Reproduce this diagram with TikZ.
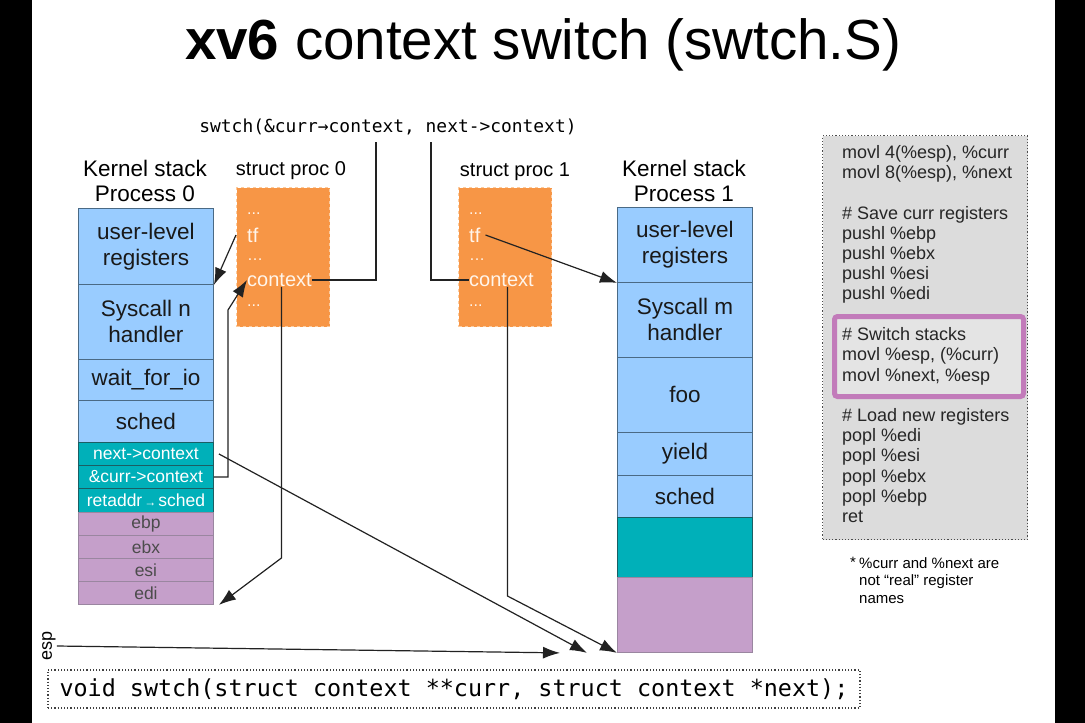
\documentclass[tikz,border=0pt]{standalone}
\usepackage{fontspec}
\setmainfont{Liberation Sans}
\newfontfamily\codefont{DejaVu Sans Mono}
\usetikzlibrary{arrows.meta,positioning}

\definecolor{stackblue}{HTML}{99CCFF}
\definecolor{stackblueline}{HTML}{4A6A85}
\definecolor{stackteal}{HTML}{00B0B9}
\definecolor{stacktealline}{HTML}{1B5E63}
\definecolor{stackpurple}{HTML}{C59FCA}
\definecolor{stackpurpleline}{HTML}{9A86A0}
\definecolor{procorange}{HTML}{F79646}
\definecolor{procorangeline}{HTML}{FCCB9E}
\definecolor{asmgray}{HTML}{DCDCDC}
\definecolor{asminner}{HTML}{E4E4E4}
\definecolor{asmframe}{HTML}{C27BBA}
\definecolor{inkline}{HTML}{222222}

\tikzset{
  cellbase/.style={rectangle, anchor=north west, minimum width=135, inner sep=0pt,
                   align=center, line width=0.9pt},
  bcell/.style={cellbase, fill=stackblue, draw=stackblueline, text=black!90,
                font=\fontsize{22.5}{26}\selectfont},
  tcell/.style={cellbase, fill=stackteal, draw=stacktealline, text=white,
                minimum height=23, font=\fontsize{17.5}{20}\selectfont},
  pcell/.style={cellbase, fill=stackpurple, draw=stackpurpleline, text=black!70,
                minimum height=23, font=\fontsize{17.5}{20}\selectfont},
  procbox/.style={rectangle, anchor=north west, fill=procorange, draw=procorangeline,
                  dashed, line width=1pt, minimum width=93, minimum height=139},
  field/.style={anchor=west, inner sep=0pt, text=white!92!orange,
                font=\fontsize{20}{24}\selectfont},
  gap/.style={field, font=\fontsize{16}{18}\selectfont},
  caption/.style={align=center, font=\fontsize{22.5}{25}\selectfont},
  link/.style={draw=inkline, line width=1.2pt},
  pointer/.style={link, -{Latex[length=17pt,width=12pt]}},
}

\begin{document}
\begin{tikzpicture}[x=1pt,y=-1pt]
\useasboundingbox (0,0) rectangle (1085,723);
\fill[white] (0,0) rectangle (1085,723);
% letterbox bars
\fill[black] (0,0) rectangle (32,723);
\fill[black] (1055,0) rectangle (1085,723);

% title
\node (title) at (543,45) {\fontsize{56.5}{62}\selectfont\textbf{xv6} context switch (swtch.S)};

% call site
\node (call) at (388,127) {\codefont\fontsize{17.9}{20}\selectfont swtch(\&curr→context, next->context)};
\coordinate (callcurr) at (376,142);
\coordinate (callnext) at (431,142);

% kernel stack of process 0
\node[caption] (ks0) at (145,181) {Kernel stack\\Process 0};
\node[bcell, minimum height=76] (ul0) at (78,208) {user-level\\registers};
\node[bcell, minimum height=75] (sn0) at (78,284) {Syscall n\\handler};
\node[bcell, minimum height=41] (wait0) at (78,359) {wait\_for\_io};
\node[bcell, minimum height=42] (sched0) at (78,400) {sched};
\node[tcell] (nc0) at (78,442) {next->context};
\node[tcell] (cc0) at (78,465) {\&curr->context};
\node[tcell, minimum height=24] (ra0) at (78,488) {retaddr{\fontsize{12}{14}\selectfont\,→\,}sched};
\node[pcell] (ebp0) at (78,512) {ebp};
\node[pcell] (ebx0) at (78,535) {ebx};
\node[pcell] (esi0) at (78,558) {esi};
\node[pcell] (edi0) at (78,581) {edi};

% struct proc 0
\node[font=\fontsize{20}{22}\selectfont] (sp0lbl) at (291,171) {struct proc 0};
\node[procbox] (sp0) at (236,187) {};
\node[gap] (d0a) at (247,214) {...};
\node[field] (tf0) at (247,235) {tf};
\node[gap] (d0b) at (247,260) {…};
\node[field] (ctx0) at (247,280) {context};
\node[gap] (d0c) at (247,306) {...};

% struct proc 1
\node[font=\fontsize{20}{22}\selectfont] (sp1lbl) at (515,172) {struct proc 1};
\node[procbox] (sp1) at (458,187) {};
\node[gap] (d1a) at (469,214) {...};
\node[field] (tf1) at (469,235) {tf};
\node[gap] (d1b) at (469,260) {…};
\node[field] (ctx1) at (469,280) {context};
\node[gap] (d1c) at (469,306) {...};

% kernel stack of process 1
\node[caption] (ks1) at (684,181) {Kernel stack\\Process 1};
\node[bcell, minimum height=75] (ul1) at (617,207) {user-level\\registers};
\node[bcell, minimum height=75] (sm1) at (617,282) {Syscall m\\handler};
\node[bcell, minimum height=75] (foo1) at (617,357) {foo};
\node[bcell, minimum height=43] (yield1) at (617,432) {yield};
\node[bcell, minimum height=42] (sched1) at (617,475) {sched};
\node[tcell, minimum height=60] (args1) at (617,517) {};
\node[pcell, minimum height=75] (regs1) at (617,577) {};

% assembly listing
\node[rectangle, anchor=north west, fill=asmgray, draw=black!70, dotted, line width=1.2pt,
      minimum width=205, minimum height=404] (asm) at (822,135) {};
\node[rectangle, anchor=north west, fill=asminner, draw=asmframe, line width=5pt,
      rounded corners=3pt, minimum width=189, minimum height=80] (swbox) at (832,314) {};
\node[anchor=north west, inner sep=0pt, align=left, text=black!85,
      font=\fontsize{18}{20.25}\selectfont] (asmtext) at (842,145) {%
movl 4(\%esp), \%curr\\
movl 8(\%esp), \%next\\
\mbox{}\\
\# Save curr registers\\
pushl \%ebp\\
pushl \%ebx\\
pushl \%esi\\
pushl \%edi\\
\mbox{}\\
\# Switch stacks\\
movl \%esp, (\%curr)\\
movl \%next, \%esp\\
\mbox{}\\
\# Load new registers\\
popl \%edi\\
popl \%esi\\
popl \%ebx\\
popl \%ebp\\
ret};

% footnote
\node[anchor=north west, inner sep=0pt, font=\fontsize{15}{17.5}\selectfont] (star) at (850,557) {*};
\node[anchor=north west, inner sep=0pt, align=left, font=\fontsize{15}{17.5}\selectfont]
      (note) at (859,557) {\%curr and \%next are\\not “real” register\\names};

% prototype
\node[rectangle, draw=black!75, dotted, line width=1.2pt, minimum width=812, minimum height=38,
      font=\codefont\fontsize{23.4}{26}\selectfont] (proto) at (454,689)
      {void swtch(struct context **curr, struct context *next);};

% stack pointer
\node[rotate=90, font=\fontsize{18}{20}\selectfont, inner sep=1pt] (esp) at (49,646) {esp};

% connectors
\draw[pointer] (sp0.west |- tf0.west) -- (ul0.south east);
\coordinate (bendcur) at (228,310);
\draw[pointer] (cc0.east) -| (bendcur) -- (ctx0.west);
\coordinate (drop0) at (283,558);
\draw[pointer] ([xshift=2]ctx0.south) -- ([xshift=2]ctx0.south |- drop0) -- ([xshift=5]edi0.south east);
\draw[link] (callcurr) |- (ctx0.east);
\draw[link] (callnext) |- (ctx1.west);
\draw[pointer] ([xshift=5]tf1.east) -- (ul1.south west);
\coordinate (drop1) at (506,596);
\draw[pointer] ([xshift=6]ctx1.south) -- ([xshift=6]ctx1.south |- drop1) -- (regs1.south west);
\draw[pointer] ([xshift=5]nc0.east) -- ([xshift=-30]regs1.south west);
\draw[pointer] (esp.south) -- ([xshift=-57]regs1.south west);
\end{tikzpicture}
\end{document}
